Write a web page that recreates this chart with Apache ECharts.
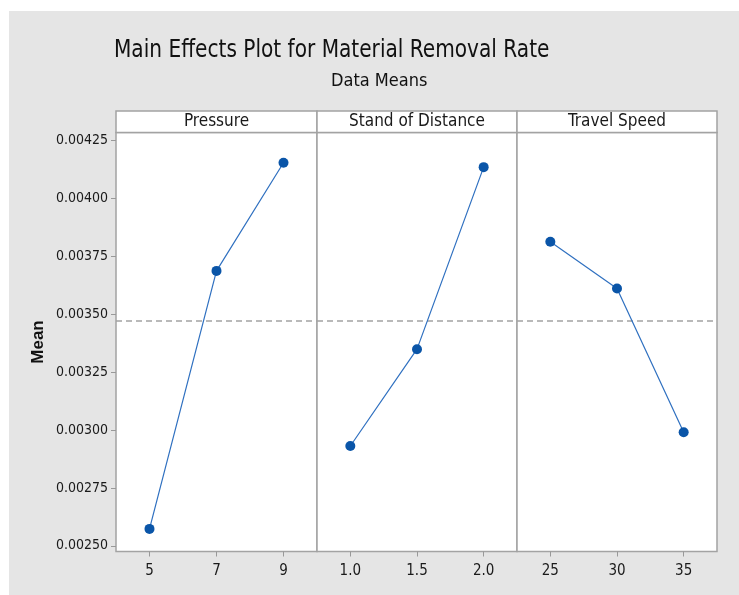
<!DOCTYPE html>
<html>
<head>
<meta charset="utf-8">
<script src="https://cdn.jsdelivr.net/npm/echarts@6/dist/echarts.min.js"></script>
<style>
  html, body { margin: 0; padding: 0; background: #fff; }
  #main { width: 739px; height: 595px; }
</style>
</head>
<body>
<div id="main"></div>
<script>
// factors and their levels
var factors = ['Pressure', 'Stand of Distance', 'Travel Speed'];
var pressureLevels = ['5', '7', '9'];
var distanceLevels = ['1.0', '1.5', '2.0'];
var speedLevels = ['25', '30', '35'];

// mean material removal rate per level
var pressureMeans = [0.002573, 0.003687, 0.004154];
var distanceMeans = [0.002931, 0.003349, 0.004135];
var speedMeans = [0.003813, 0.003611, 0.002990];

var grandMean = 0.003471;
var yTicks = [0.00250, 0.00275, 0.00300, 0.00325, 0.00350, 0.00375, 0.00400, 0.00425];

var levels = [pressureLevels, distanceLevels, speedLevels];
var means = [pressureMeans, distanceMeans, speedMeans];

var chart = echarts.init(document.getElementById('main'));

var narrow = '"Liberation Sans Narrow", "DejaVu Sans Condensed", sans-serif';
var panelLeft = [116, 317, 517];
var panelW = [201, 200, 200];
var gridTop = 132.5, gridBottom = 43.5;

var grids = [], xAxes = [], yAxes = [], series = [], header = [];

for (var i = 0; i < 3; i++) {
    grids.push({
        left: panelLeft[i], width: panelW[i], top: gridTop, bottom: gridBottom,
        show: true, backgroundColor: '#fff', borderColor: '#a3a3a3', borderWidth: 1.5
    });
    xAxes.push({
        type: 'category', gridIndex: i, data: levels[i], boundaryGap: true,
        axisLine: { show: false },
        axisTick: { show: true, alignWithLabel: true, length: 5, lineStyle: { color: '#999' } },
        axisLabel: { color: '#1a1a1a', fontFamily: narrow, fontSize: 15, margin: 12 },
        splitLine: { show: false }
    });
    yAxes.push({
        type: 'value', gridIndex: i, min: 0.0024754, max: 0.0042845,
        name: i === 0 ? 'Mean' : '',
        nameLocation: 'middle', nameGap: 69, nameRotate: 90,
        nameTextStyle: { fontFamily: 'Liberation Sans, Arial, sans-serif', fontWeight: 'bold', fontSize: 17, color: '#111' },
        axisLine: { show: false },
        axisTick: { show: i === 0, length: 5, lineStyle: { color: '#999' },
            customValues: yTicks },
        axisLabel: { show: i === 0, color: '#1a1a1a', fontFamily: narrow, fontSize: 14, margin: 8,
            customValues: yTicks,
            formatter: function (v) { return v.toFixed(5); } },
        splitLine: { show: false }
    });
    series.push({
        type: 'line', xAxisIndex: i, yAxisIndex: i,
        data: means[i],
        symbol: 'circle', symbolSize: 10,
        itemStyle: { color: '#0a55a8' },
        lineStyle: { color: '#2f70c0', width: 1.2 },
        z: 3
    });
    header.push({
        type: 'rect',
        shape: { x: panelLeft[i], y: 111, width: panelW[i], height: gridTop - 111 },
        style: { fill: '#fff', stroke: '#a3a3a3', lineWidth: 1.5 }
    });
    header.push({
        type: 'text',
        x: panelLeft[i] + panelW[i] / 2, y: 122,
        style: { text: factors[i], fill: '#1a1a1a', font: '17px ' + narrow,
            textAlign: 'center', textVerticalAlign: 'middle' }
    });
}

// hidden 0..1 axes so the grand-mean reference line spans each panel
for (var j = 0; j < 3; j++) {
    xAxes.push({ type: 'value', gridIndex: j, min: 0, max: 1, show: false });
    series.push({
        type: 'line', xAxisIndex: 3 + j, yAxisIndex: j,
        data: [[0, grandMean], [1, grandMean]],
        symbol: 'none', silent: true, z: 2,
        lineStyle: { color: '#a3a3a3', type: [6, 4], width: 1.5 }
    });
}

var option = {
    animation: false,
    backgroundColor: '#fff',
    title: [
        { text: 'Data Means', left: 326, top: 67,
          textStyle: { fontFamily: narrow, fontSize: 18, fontWeight: 'normal', color: '#111' } }
    ],
    graphic: [{
        type: 'rect', z: -10, silent: true,
        shape: { x: 9, y: 11, width: 730, height: 584 },
        style: { fill: '#e5e5e5' }
    }, {
        type: 'text', x: 114, y: 50, scaleX: 0.895,
        style: { text: 'Main Effects Plot for Material Removal Rate', fill: '#111',
            font: '25px ' + narrow, textVerticalAlign: 'middle' }
    }].concat(header),
    grid: grids,
    xAxis: xAxes,
    yAxis: yAxes,
    series: series
};

chart.setOption(option);
</script>
</body>
</html>
